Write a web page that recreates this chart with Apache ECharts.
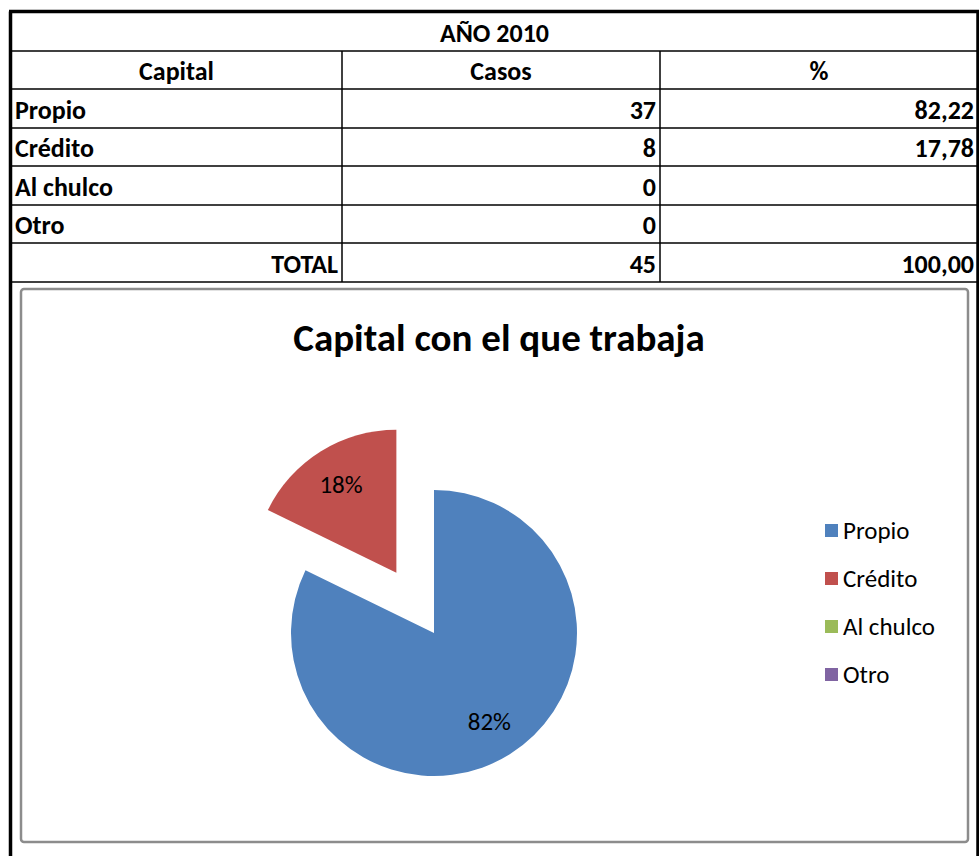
<!DOCTYPE html>
<html>
<head>
<meta charset="utf-8">
<script src="https://cdn.jsdelivr.net/npm/echarts@6/dist/echarts.min.js"></script>
<style>
    html, body { margin: 0; padding: 0; background: #ffffff; }
    #chart { width: 979px; height: 856px; }
</style>
</head>
<body>
<div id="chart"></div>
<script>
    // datos de la tabla
    const tableTitle = 'AÑO 2010';
    const headers = ['Capital', 'Casos', '%'];
    const categories = ['Propio', 'Crédito', 'Al chulco', 'Otro'];
    const casos = [37, 8, 0, 0];
    const porcentajes = ['82,22', '17,78', '', ''];
    const totalLabel = 'TOTAL';
    const totalCasos = 45;
    const totalPct = '100,00';

    const chartTitle = 'Capital con el que trabaja';
    const colors = ['#4F81BD', '#C0504D', '#9BBB59', '#8064A2'];
    const explodedItem = 'Crédito';

    const FONT = 'Carlito, Lato, sans-serif';

    // rejilla de la tabla
    const colX = [11, 342, 660, 978];
    const rowY = [12, 51, 89, 128, 166, 205, 243, 282];

    const graphic = [];
    const line = (x1, y1, x2, y2, w) => graphic.push({
        type: 'line',
        shape: {x1: x1, y1: y1, x2: x2, y2: y2},
        style: {stroke: '#000', lineWidth: w}
    });
    const text = (str, x, y, align) => graphic.push({
        type: 'text',
        style: {
            text: str, x: x, y: y,
            textAlign: align, textVerticalAlign: 'middle',
            font: 'bold 26px ' + FONT, fill: '#000'
        }
    });

    // bordes exteriores
    line(10.5, 11.5, 10.5, 856, 3.5);
    line(978, 11.5, 978, 856, 3.5);
    line(9, 11.5, 979, 11.5, 3.5);
    // lineas horizontales
    for (let i = 1; i < rowY.length; i++) {
        line(11, rowY[i], 978, rowY[i], 1.5);
    }
    // lineas verticales
    line(colX[1], rowY[1], colX[1], rowY[7], 1.5);
    line(colX[2], rowY[1], colX[2], rowY[7], 1.5);

    const midY = (r) => (rowY[r] + rowY[r + 1]) / 2 + 1;
    text(tableTitle, (colX[0] + colX[3]) / 2, midY(0), 'center');
    headers.forEach((h, i) => text(h, (colX[i] + colX[i + 1]) / 2, midY(1), 'center'));
    categories.forEach((c, i) => {
        text(c, 15, midY(i + 2), 'left');
        text(String(casos[i]), colX[2] - 4, midY(i + 2), 'right');
        if (porcentajes[i]) text(porcentajes[i], colX[3] - 4, midY(i + 2), 'right');
    });
    text(totalLabel, colX[1] - 4, midY(6), 'right');
    text(String(totalCasos), colX[2] - 4, midY(6), 'right');
    text(totalPct, colX[3] - 4, midY(6), 'right');

    // marco del grafico
    graphic.push({
        type: 'rect',
        shape: {x: 21, y: 289, width: 947, height: 553, r: 3},
        style: {fill: '#fff', stroke: '#8c8c8c', lineWidth: 2.5}
    });

    const pieData = categories.map((c, i) => ({
        name: c,
        value: casos[i],
        selected: c === explodedItem
    }));

    const chart = echarts.init(document.getElementById('chart'), null, {renderer: 'svg'});
    chart.setOption({
        animation: false,
        color: colors,
        graphic: graphic,
        title: {
            text: chartTitle,
            left: 494,
            textAlign: 'center',
            top: 313,
            textStyle: {fontFamily: FONT, fontSize: 39, fontWeight: 'bold', color: '#000'}
        },
        legend: {
            orient: 'vertical',
            left: 820,
            top: 513,
            itemWidth: 13,
            itemHeight: 13,
            itemGap: 23,
            icon: 'rect',
            data: categories.map((c, i) => ({name: c, itemStyle: {color: colors[i]}})),
            textStyle: {fontFamily: FONT, fontSize: 25, color: '#000'}
        },
        series: [
            {
                type: 'pie',
                center: [434, 633],
                radius: [0, 143],
                startAngle: 90,
                selectedMode: 'single',
                selectedOffset: 71,
                label: {show: false},
                labelLine: {show: false},
                emphasis: {disabled: true},
                data: pieData
            },
            {
                // capa transparente solo para colocar las etiquetas
                type: 'pie',
                center: [434, 633],
                radius: [60, 143],
                startAngle: 90,
                selectedMode: 'single',
                selectedOffset: 71,
                silent: true,
                itemStyle: {color: 'transparent'},
                label: {
                    show: true,
                    position: 'inside',
                    fontFamily: FONT,
                    fontSize: 25,
                    color: '#000',
                    formatter: (p) => p.value > 0 ? Math.round(p.percent) + '%' : ''
                },
                labelLine: {show: false},
                emphasis: {disabled: true},
                data: pieData
            }
        ]
    });
</script>
</body>
</html>
